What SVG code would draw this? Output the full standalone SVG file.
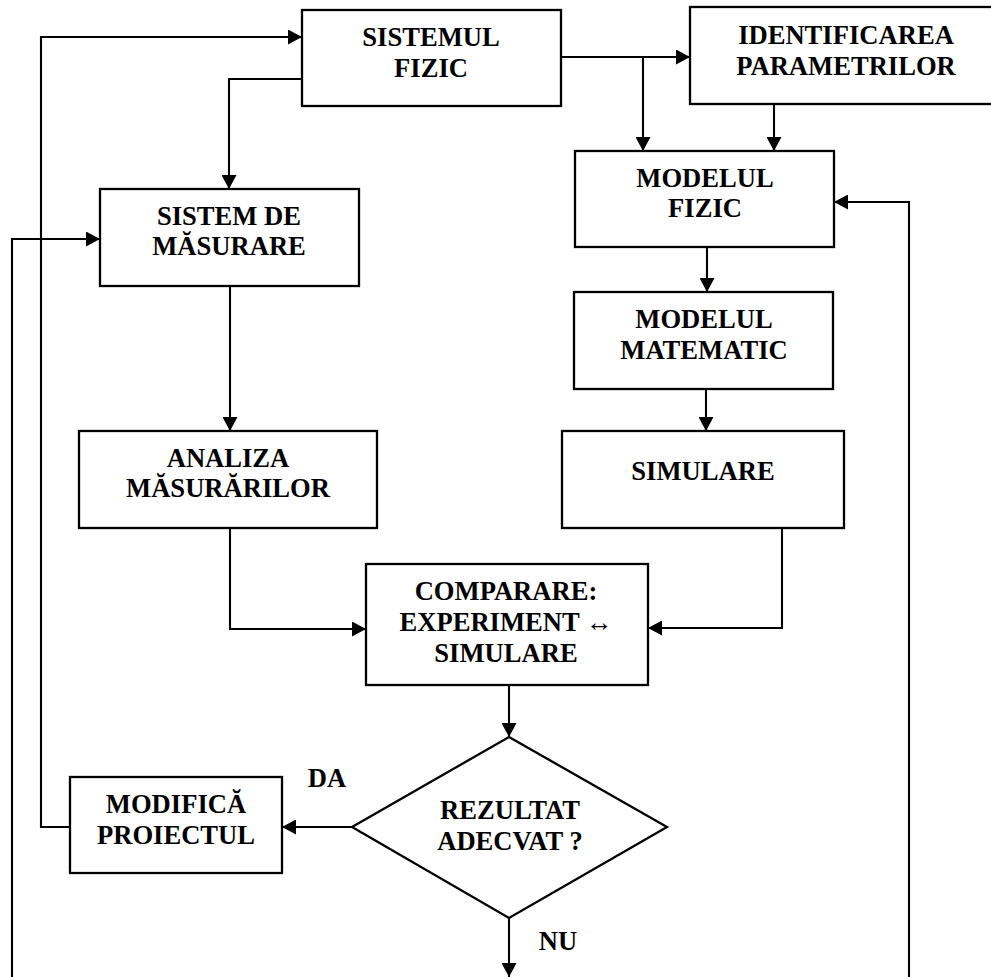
<svg xmlns="http://www.w3.org/2000/svg" width="991" height="977" viewBox="0 0 991 977">
  <style>
    .box { fill: #ffffff; stroke: #000000; stroke-width: 2.3; }
    .wire { fill: none; stroke: #000000; stroke-width: 2.1; }
    .arr { marker-end: url(#head); }
    text { font-family: "Liberation Serif", "Times New Roman", serif; font-weight: bold; font-size: 26.6px; fill: #000000; text-anchor: middle; }
  </style>
  <defs>
    <marker id="head" markerUnits="userSpaceOnUse" markerWidth="14" markerHeight="15" refX="14" refY="7.5" orient="auto">
      <path d="M0,0 L14,7.5 L0,15 z" fill="#000000"/>
    </marker>
  </defs>
  <rect width="991" height="977" fill="#ffffff"/>

  <g id="connectors">
    <!-- feedback: modify project -> physical system -->
    <path class="wire arr" d="M70,827 H41 V37 H302"/>
    <!-- outer loop -> measuring system -->
    <path class="wire arr" d="M12,977 V239 H100"/>
    <!-- outer loop -> physical model -->
    <path class="wire arr" d="M909,977 V202 H834"/>
    <!-- physical system -> measuring system -->
    <path class="wire arr" d="M302,79 H229 V189"/>
    <!-- physical system -> parameter identification -->
    <path class="wire arr" d="M561,57 H690"/>
    <!-- branch -> physical model -->
    <path class="wire arr" d="M643,57 V151"/>
    <!-- parameter identification -> physical model -->
    <path class="wire arr" d="M774,104 V151"/>
    <!-- physical model -> mathematical model -->
    <path class="wire arr" d="M707,247 V292"/>
    <!-- mathematical model -> simulation -->
    <path class="wire arr" d="M706,389 V431"/>
    <!-- measuring system -> measurement analysis -->
    <path class="wire arr" d="M230,286 V431"/>
    <!-- measurement analysis -> comparison -->
    <path class="wire arr" d="M230,528 V629 M229,629 H366"/>
    <!-- simulation -> comparison -->
    <path class="wire arr" d="M782,528 V628 H648"/>
    <!-- comparison -> decision -->
    <path class="wire arr" d="M509,685 V737"/>
    <!-- decision: yes -> modify project -->
    <path class="wire arr" d="M352,827 H282"/>
    <!-- decision: no -> exit -->
    <path class="wire arr" d="M509,918 V977"/>
  </g>

  <g id="sistemul-fizic">
    <rect class="box" x="302" y="10" width="259" height="96"/>
    <text x="431" y="46">SISTEMUL</text>
    <text x="431" y="77">FIZIC</text>
  </g>

  <g id="identificarea-parametrilor">
    <rect class="box" x="690" y="7" width="320" height="97"/>
    <text x="846" y="44">IDENTIFICAREA</text>
    <text x="846" y="75">PARAMETRILOR</text>
  </g>

  <g id="sistem-de-masurare">
    <rect class="box" x="100" y="189" width="259" height="97"/>
    <text x="229" y="225">SISTEM DE</text>
    <text x="229" y="255">MĂSURARE</text>
  </g>

  <g id="modelul-fizic">
    <rect class="box" x="575" y="151" width="259" height="96"/>
    <text x="705" y="187">MODELUL</text>
    <text x="705" y="217">FIZIC</text>
  </g>

  <g id="modelul-matematic">
    <rect class="box" x="574" y="292" width="259" height="97"/>
    <text x="704" y="328">MODELUL</text>
    <text x="704" y="359">MATEMATIC</text>
  </g>

  <g id="simulare">
    <rect class="box" x="562" y="431" width="282" height="97"/>
    <text x="703" y="480">SIMULARE</text>
  </g>

  <g id="analiza-masurarilor">
    <rect class="box" x="79" y="431" width="298" height="97"/>
    <text x="228" y="467">ANALIZA</text>
    <text x="228" y="497">MĂSURĂRILOR</text>
  </g>

  <g id="comparare">
    <rect class="box" x="366" y="564" width="282" height="121"/>
    <text x="506" y="600">COMPARARE:</text>
    <text x="506" y="631">EXPERIMENT ↔</text>
    <text x="506" y="662">SIMULARE</text>
  </g>

  <g id="rezultat-adecvat">
    <polygon class="box" points="509,737 667,827 509,918 352,827"/>
    <text x="510" y="819">REZULTAT</text>
    <text x="510" y="850">ADECVAT ?</text>
  </g>

  <g id="modifica-proiectul">
    <rect class="box" x="70" y="777" width="212" height="96"/>
    <text x="176" y="813">MODIFICĂ</text>
    <text x="176" y="844">PROIECTUL</text>
  </g>

  <g id="branch-labels">
    <text x="327" y="787">DA</text>
    <text x="558" y="950">NU</text>
  </g>
</svg>
